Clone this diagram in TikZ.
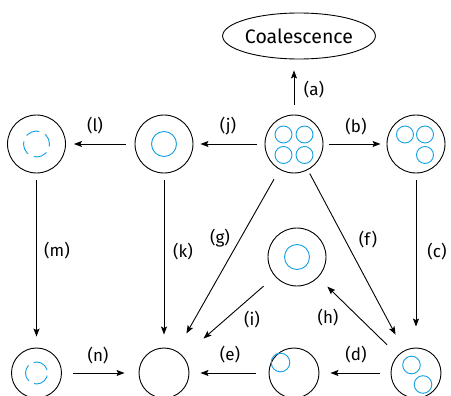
\documentclass[tikz,border=0pt]{standalone}
\usepackage{fontspec}
\setmainfont{Fira Sans}
\usetikzlibrary{arrows.meta,shapes.geometric}
\definecolor{cblue}{RGB}{20,160,225}
\begin{document}
\begin{tikzpicture}[x=1pt,y=-1pt,
  big/.style={circle,draw,line width=0.9pt,minimum size=58pt,inner sep=0pt},
  small/.style={circle,draw,line width=0.9pt,minimum size=50pt,inner sep=0pt},
  arr/.style={-{Stealth[length=8pt,width=6pt,inset=1.5pt]},line width=0.9pt},
  lab/.style={font=\fontsize{17}{19}\selectfont,inner sep=0pt},
  bub/.style={draw=cblue,line width=0.9pt}]
\useasboundingbox (0,0) rectangle (451,396);
\node[ellipse,draw,line width=0.9pt,minimum width=150pt,minimum height=46pt,inner sep=0pt,font=\fontsize{19.5}{22}\selectfont] (coal) at (299,36) {Coalescence};
\node[big] (n4) at (294,144) {};
\node[big] (n3) at (416,144) {};
\node[big] (nj) at (164,144) {};
\node[big] (nl) at (36.5,144) {};
\node[big] (nmid) at (297,257) {};
\node[small] (bl) at (36.5,373) {};
\node[small] (bc) at (164,373) {};
\node[small] (bd) at (294,373) {};
\node[small] (br) at (416,373) {};
% bubbles
\draw[bub] (n4.center) ++(-10.5,-9.5) circle[radius=8.5pt];
\draw[bub] (n4.center) ++(10.5,-9.5) circle[radius=8.5pt];
\draw[bub] (n4.center) ++(-10.5,11) circle[radius=8.5pt];
\draw[bub] (n4.center) ++(10.5,11) circle[radius=8.5pt];
\draw[bub] (n3.center) ++(-11,-9.5) circle[radius=8.5pt];
\draw[bub] (n3.center) ++(9,-9.5) circle[radius=8.5pt];
\draw[bub] (n3.center) ++(9,11) circle[radius=8.5pt];
\draw[bub] (nj.center) circle[radius=12.5pt];
\draw[bub] (nmid.center) circle[radius=12.5pt];
\draw[bub,dash pattern=on 14pt off 6.4pt,dash phase=3pt] (nl.center) circle[radius=13pt];
\draw[bub,dash pattern=on 17pt off 6pt,dash phase=-3pt] (bl.center) circle[radius=11pt];
\draw[bub] (bd.center) ++(-13.5,-10.5) circle[radius=9.3pt];
\draw[bub] (br.center) ++(-4.5,-8) circle[radius=8.8pt];
\draw[bub] (br.center) ++(7,11.5) circle[radius=8.8pt];
% arrows
\draw[arr,shorten <=10pt,shorten >=11pt] (n4.north) -- (n4.north |- coal.south);
\draw[arr,shorten <=6pt,shorten >=6pt] (n4) -- (n3);
\draw[arr,shorten <=8pt,shorten >=7pt] (n4) -- (nj);
\draw[arr,shorten <=9pt,shorten >=8pt] (nj) -- (nl);
\draw[arr,shorten <=7pt,shorten >=11pt] (nl) -- (bl);
\draw[arr,shorten <=7pt,shorten >=13pt] (nj) -- (bc);
\draw[arr,shorten <=7pt,shorten >=21pt] (n3) -- (br);
\draw[arr,shorten <=11pt,shorten >=20pt] (n4) -- (bc);
\draw[arr,shorten <=4pt,shorten >=18pt] (n4) -- (br);
\draw[arr,shorten <=15pt,shorten >=13pt] (br) -- (nmid);
\draw[arr,shorten <=15pt,shorten >=27pt] (nmid) -- (bc);
\draw[arr,shorten <=11pt,shorten >=11pt] (br) -- (bd);
\draw[arr,shorten <=13pt,shorten >=11pt] (bd) -- (bc);
\draw[arr,shorten <=11pt,shorten >=14pt] (bl) -- (bc);
% labels
\node[lab] (la) at (314,90) {(a)};
\node[lab] (lb) at (356,127) {(b)};
\node[lab] (lc) at (437,252) {(c)};
\node[lab] (ld) at (356,355) {(d)};
\node[lab] (le) at (230,355) {(e)};
\node[lab] (lf) at (368,240) {(f)};
\node[lab] (lg) at (220,238) {(g)};
\node[lab] (lh) at (328,318) {(h)};
\node[lab] (li) at (252,320) {(i)};
\node[lab] (lj) at (228,126) {(j)};
\node[lab] (lk) at (183,252) {(k)};
\node[lab] (ll) at (95,126) {(l)};
\node[lab] (lm) at (57,251) {(m)};
\node[lab] (ln) at (98,356) {(n)};
\end{tikzpicture}
\end{document}
